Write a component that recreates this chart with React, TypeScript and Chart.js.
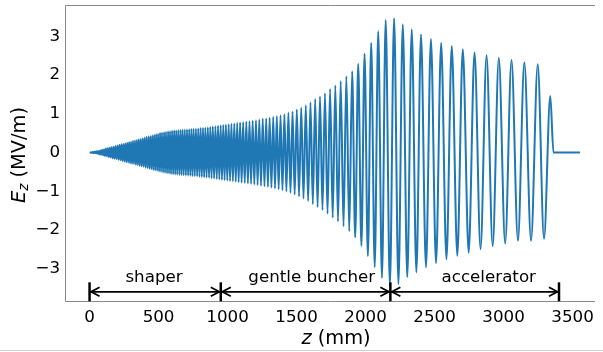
import React, { useEffect, useRef } from "react";
import { Chart, registerables } from "chart.js";
Chart.register(...registerables);

// Positive field maxima along the RFQ: z (mm) and Ez (MV/m)
const peakZ = [
  7, 21, 35, 49, 63, 77, 91, 105, 119, 133, 147, 161, 175, 189, 203, 217, 231, 245, 259, 273,
  287, 301, 315, 329, 343, 357, 371, 385, 399, 413, 427, 441, 455, 469, 483, 497, 511, 525,
  540, 554, 569, 583, 598, 613, 628, 643, 659, 674, 690, 706, 722, 738, 754, 771, 788, 805,
  822, 839, 857, 875, 893, 912, 931, 950, 969, 988, 1008, 1028, 1049, 1070, 1091, 1113, 1136,
  1159, 1182,
  1206, 1230, 1255, 1280, 1305, 1331, 1357, 1384, 1412, 1441, 1471, 1502, 1534, 1567, 1601,
  1635, 1670, 1706, 1743, 1781, 1820, 1861, 1903, 1947, 1993, 2041, 2092, 2146,
  2207, 2270, 2335, 2402, 2474, 2548, 2625, 2705, 2790, 2877, 2966, 3058, 3151, 3248, 3339,
];
const peakE = [
  0.0, 0.01, 0.02, 0.03, 0.04, 0.05, 0.07, 0.08, 0.1, 0.11, 0.12, 0.14, 0.15, 0.17, 0.18, 0.2,
  0.21, 0.22, 0.24, 0.25, 0.27, 0.28, 0.3, 0.31, 0.32, 0.34, 0.35, 0.37, 0.38, 0.4, 0.41, 0.42,
  0.44, 0.45, 0.47, 0.48, 0.5, 0.51,
  0.52, 0.53, 0.54, 0.55, 0.56, 0.565, 0.57, 0.575, 0.58, 0.585, 0.59, 0.595, 0.6, 0.605, 0.61,
  0.615, 0.62, 0.63, 0.635, 0.64, 0.65, 0.66, 0.67, 0.68, 0.69, 0.7, 0.71, 0.72, 0.73, 0.74,
  0.75, 0.765, 0.775, 0.785, 0.795, 0.805, 0.82,
  0.83, 0.85, 0.87, 0.88, 0.9, 0.92, 0.94, 0.96, 0.99, 1.03, 1.06, 1.11, 1.16, 1.22, 1.29,
  1.38, 1.45, 1.53, 1.64, 1.73, 1.84, 1.97, 2.1, 2.29, 2.55, 2.83, 3.13, 3.42,
  3.47, 3.31, 3.18, 3.05, 2.93, 2.83, 2.75, 2.67, 2.58, 2.51, 2.45, 2.39, 2.33, 2.28, 1.46,
];

// Negative field minima: z (mm) and Ez (MV/m)
const troughZ = [
  14, 28, 42, 56, 70, 84, 98, 112, 126, 140, 154, 168, 182, 196, 210, 224, 238, 252, 266, 280,
  294, 308, 322, 336, 350, 364, 378, 392, 406, 420, 434, 448, 462, 476, 490, 504, 518,
  532.5, 547, 561.5, 576, 590.5, 605.5, 620.5, 635.5, 651, 666.5, 682, 698, 714, 730, 746,
  762.5, 779.5, 796.5, 813.5, 830.5, 848, 866, 884, 902.5, 921.5, 940.5, 959.5, 978.5, 998,
  1018, 1038.5, 1059.5, 1080.5, 1102, 1124.5, 1147.5, 1170.5,
  1194, 1218, 1242.5, 1267.5, 1292.5, 1318, 1344, 1370.5, 1398, 1426.5, 1456, 1486.5, 1518,
  1550.5, 1584, 1618, 1652.5, 1688, 1724.5, 1762, 1800.5, 1840.5, 1882, 1925, 1970, 2017,
  2066.5, 2119,
  2176.5, 2238.5, 2302.5, 2368.5, 2438, 2511, 2586.5, 2665, 2747.5, 2833.5, 2921.5, 3012,
  3104.5, 3199.5, 3293.5,
];
const troughE = [
  -0.01, -0.02, -0.02, -0.03, -0.05, -0.06, -0.07, -0.09, -0.1, -0.12, -0.13, -0.15, -0.16,
  -0.17, -0.19, -0.2, -0.22, -0.23, -0.25, -0.26, -0.28, -0.29, -0.3, -0.32, -0.33, -0.35,
  -0.36, -0.37, -0.39, -0.4, -0.42, -0.43, -0.45, -0.46, -0.47, -0.49, -0.5,
  -0.515, -0.525, -0.535, -0.545, -0.555, -0.562, -0.567, -0.572, -0.577, -0.582, -0.587,
  -0.592, -0.597, -0.602, -0.607, -0.612, -0.617, -0.625, -0.632, -0.637, -0.645, -0.655,
  -0.665, -0.675, -0.685, -0.695, -0.705, -0.715, -0.725, -0.735, -0.745, -0.757, -0.77,
  -0.78, -0.79, -0.8, -0.812,
  -0.825, -0.84, -0.86, -0.875, -0.89, -0.91, -0.93, -0.95, -0.975, -1.01, -1.045, -1.085,
  -1.135, -1.19, -1.255, -1.335, -1.415, -1.49, -1.585, -1.685, -1.785, -1.905, -2.035,
  -2.195, -2.415, -2.675, -2.96, -3.24,
  -3.44, -3.4, -3.22, -3.1, -2.97, -2.86, -2.76, -2.67, -2.59, -2.5, -2.42, -2.35, -2.28,
  -2.28, -2.23,
];

// Start of the structure and the flat tail after the exit cell
const edgeZ = [0, 3362, 3554];
const edgeE = [0, 0, 0];

const xTicks = [0, 500, 1000, 1500, 2000, 2500, 3000, 3500];
const xTickLabels = ["0", "500", "1000", "1500", "2000", "2500", "3000", "3500"];
const yTicks = [-3, -2, -1, 0, 1, 2, 3];
const yTickLabels = ["\u22123", "\u22122", "\u22121", "0", "1", "2", "3"];

const sectionNames = ["shaper", "gentle buncher", "accelerator"];
const sectionBounds = [0, 951, 2180, 3402];
const sectionLabelZ = [467, 1610, 2893];
const arrowLevel = -3.6;

const FONT = "'DejaVu Sans', sans-serif";

function buildPoints() {
  const pts: { x: number; y: number }[] = [];
  const n1 = Math.min(peakZ.length, peakE.length);
  for (let i = 0; i < n1; i++) pts.push({ x: peakZ[i], y: peakE[i] });
  const n2 = Math.min(troughZ.length, troughE.length);
  for (let i = 0; i < n2; i++) pts.push({ x: troughZ[i], y: troughE[i] });
  for (let i = 0; i < edgeZ.length; i++) pts.push({ x: edgeZ[i], y: edgeE[i] });
  pts.sort((a, b) => a.x - b.x);
  return pts;
}

const decorPlugin = {
  id: "decor",
  afterDraw(chart: any) {
    const ctx: CanvasRenderingContext2D = chart.ctx;
    const { left, right, top, bottom } = chart.chartArea;
    const xs = chart.scales.x;
    const ys = chart.scales.y;
    ctx.save();
    // frame
    ctx.strokeStyle = "#8a8a8a";
    ctx.lineWidth = 1;
    ctx.beginPath();
    ctx.moveTo(left + 0.5, top + 0.5);
    ctx.lineTo(right, top + 0.5);
    ctx.moveTo(left + 0.5, top + 0.5);
    ctx.lineTo(left + 0.5, bottom + 0.5);
    ctx.lineTo(right, bottom + 0.5);
    ctx.stroke();

    // section annotations
    const yA = ys.getPixelForValue(arrowLevel);
    ctx.strokeStyle = "#000";
    ctx.fillStyle = "#000";
    ctx.lineWidth = 1.8;
    for (let i = 0; i < sectionNames.length; i++) {
      const x1 = xs.getPixelForValue(sectionBounds[i]);
      const x2 = xs.getPixelForValue(sectionBounds[i + 1]);
      ctx.beginPath();
      ctx.moveTo(x1 + 1, yA);
      ctx.lineTo(x2 - 1, yA);
      ctx.stroke();
      ctx.beginPath();
      ctx.moveTo(x1 + 10, yA - 4.5);
      ctx.lineTo(x1 + 1.5, yA);
      ctx.lineTo(x1 + 10, yA + 4.5);
      ctx.moveTo(x2 - 10, yA - 4.5);
      ctx.lineTo(x2 - 1.5, yA);
      ctx.lineTo(x2 - 10, yA + 4.5);
      ctx.stroke();
      ctx.font = `16.7px ${FONT}`;
      ctx.textAlign = "center";
      ctx.textBaseline = "alphabetic";
      ctx.fillText(sectionNames[i], xs.getPixelForValue(sectionLabelZ[i]), yA - 10);
    }
    ctx.lineWidth = 2.5;
    for (let i = 0; i < sectionBounds.length; i++) {
      const xb = xs.getPixelForValue(sectionBounds[i]);
      ctx.beginPath();
      ctx.moveTo(xb, yA - 9.5);
      ctx.lineTo(xb, yA + 9.5);
      ctx.stroke();
    }

    // x axis title
    ctx.textBaseline = "alphabetic";
    ctx.textAlign = "left";
    const fIt = `italic 19.4px ${FONT}`;
    const fRg = `19.4px ${FONT}`;
    ctx.font = fIt;
    const wz = ctx.measureText("z").width;
    ctx.font = fRg;
    const wr = ctx.measureText(" (mm)").width;
    const cx = 336;
    const sx = cx - (wz + wr) / 2;
    ctx.font = fIt;
    ctx.fillText("z", sx, 344);
    ctx.font = fRg;
    ctx.fillText(" (mm)", sx + wz, 344);

    // y axis title
    ctx.save();
    ctx.translate(24.5, 155);
    ctx.rotate(-Math.PI / 2);
    const fSub = `italic 13.6px ${FONT}`;
    ctx.font = fIt;
    const wE = ctx.measureText("E").width;
    ctx.font = fSub;
    const wS = ctx.measureText("z").width;
    ctx.font = fRg;
    const wR = ctx.measureText(" (MV/m)").width;
    const p = -(wE + wS + wR) / 2;
    ctx.font = fIt;
    ctx.fillText("E", p, 0);
    ctx.font = fSub;
    ctx.fillText("z", p + wE, 3.5);
    ctx.font = fRg;
    ctx.fillText(" (MV/m)", p + wE + wS, 0);
    ctx.restore();

    // faint bottom rule of the figure
    ctx.strokeStyle = "#d0d0d0";
    ctx.lineWidth = 1;
    ctx.beginPath();
    ctx.moveTo(0, 350.5);
    ctx.lineTo(chart.width, 350.5);
    ctx.stroke();
    ctx.restore();
  },
};

export default function App() {
  const ref = useRef<HTMLCanvasElement | null>(null);
  useEffect(() => {
    if (!ref.current) return;
    const chart = new Chart(ref.current, {
      type: "line",
      data: {
        datasets: [
          {
            data: buildPoints(),
            borderColor: "#1f77b4",
            borderWidth: 2,
            pointRadius: 0,
            fill: false,
            cubicInterpolationMode: "monotone",
          },
        ],
      },
      options: {
        responsive: false,
        animation: false,
        devicePixelRatio: 1,
        events: [],
        layout: { padding: { top: 5, right: 8, left: 0, bottom: 0 } },
        plugins: { legend: { display: false }, tooltip: { enabled: false } },
        scales: {
          x: {
            type: "linear",
            min: -178,
            max: 3663,
            afterFit: (s: any) => {
              s.height = 51;
              s.paddingLeft = 0;
              s.paddingRight = 0;
            },
            afterBuildTicks: (s: any) => {
              s.ticks = xTicks.map((v) => ({ value: v }));
            },
            ticks: {
              callback: (v: any) => {
                const i = xTicks.indexOf(Number(v));
                return i >= 0 ? xTickLabels[i] : "";
              },
              font: { family: FONT, size: 16.7 },
              color: "#000",
              padding: 7,
              maxRotation: 0,
              autoSkip: false,
            },
            grid: { display: false, drawTicks: false },
            border: { display: false },
          },
          y: {
            type: "linear",
            min: -3.837,
            max: 3.81,
            afterFit: (s: any) => {
              s.width = 65;
              s.paddingTop = 0;
              s.paddingBottom = 0;
            },
            afterBuildTicks: (s: any) => {
              s.ticks = yTicks.map((v) => ({ value: v }));
            },
            ticks: {
              callback: (v: any) => {
                const i = yTicks.indexOf(Number(v));
                return i >= 0 ? yTickLabels[i] : "";
              },
              font: { family: FONT, size: 16.7 },
              color: "#000",
              padding: 5,
              autoSkip: false,
            },
            grid: { display: false, drawTicks: false },
            border: { display: false },
          },
        },
      },
      plugins: [decorPlugin],
    });
    return () => chart.destroy();
  }, []);
  return (
    <div style={{ position: "fixed", left: 0, top: 0, width: 603, height: 352, background: "#fff" }}>
      <canvas ref={ref} width={603} height={352} style={{ display: "block", width: 603, height: 352 }} />
    </div>
  );
}
